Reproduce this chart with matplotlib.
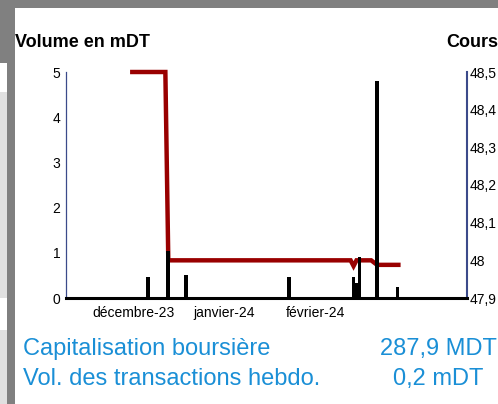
import matplotlib
matplotlib.use("Agg")
import matplotlib.pyplot as plt
import matplotlib.patches as mpatch
import matplotlib.dates as mdates
import numpy as np

plt.rcParams['font.family'] = ['Liberation Sans', 'DejaVu Sans']

# volume (mDT), one bar per trading day
vol_dates = np.array(['2023-12-06', '2023-12-13', '2023-12-19', '2024-01-23',
                      '2024-02-14', '2024-02-15', '2024-02-16', '2024-02-22',
                      '2024-02-29'], dtype='datetime64[D]')
vol = [0.47, 1.04, 0.51, 0.47, 0.47, 0.33, 0.91, 4.81, 0.24]

# share price (DT)
price_dates = np.array(['2023-11-30', '2023-12-12', '2023-12-13', '2024-02-13',
                        '2024-02-14', '2024-02-15', '2024-02-20', '2024-02-22',
                        '2024-03-01'], dtype='datetime64[D]')
price = [48.5, 48.5, 48.0, 48.0, 47.985, 48.0, 48.0, 47.988, 47.988]

month_ticks = np.array(['2023-12-01', '2024-01-01', '2024-02-01'], dtype='datetime64[D]')
month_labels = ['décembre-23', 'janvier-24', 'février-24']

left_ticks = [0, 1, 2, 3, 4, 5]
right_ticks = [47.9, 48.0, 48.1, 48.2, 48.3, 48.4, 48.5]
right_labels = ['47,9', '48', '48,1', '48,2', '48,3', '48,4', '48,5']

W, H = 498, 404
fig = plt.figure(figsize=(W / 100, H / 100), dpi=100)


def px_rect(x, y, w, h, color):
    # rectangle given in pixel coords (origin top-left)
    fig.patches.append(mpatch.Rectangle((x / W, 1 - (y + h) / H), w / W, h / H,
                                        transform=fig.transFigure, color=color,
                                        lw=0, zorder=0))


# page decoration around the chart
px_rect(0, 0, W, 8, '#808080')
px_rect(0, 0, 15, 63, '#808080')
px_rect(7, 63, 8, H - 63, '#808080')
px_rect(0, 92, 7, 206, '#e0e0e0')
px_rect(0, 330, 7, H - 330, '#e0e0e0')

ax = fig.add_axes([66 / W, 1 - 298 / H, (467 - 66) / W, (298 - 72) / H])
ax2 = ax.twinx()
ax.set_zorder(2)
ax.patch.set_visible(False)
ax2.set_zorder(1)

ax.bar(vol_dates, vol, width=1.25, color='black', zorder=3)
ax2.plot(price_dates, price, color='#990000', lw=3.2, solid_capstyle='butt',
         solid_joinstyle='miter', clip_on=False)

x0 = mdates.date2num(np.datetime64('2023-11-08T05:00'))
x1 = mdates.date2num(np.datetime64('2024-03-23T14:00'))
ax.set_xlim(x0, x1)
ax.set_ylim(0, 5)
ax2.set_ylim(47.9, 48.5)

ax.set_xticks(mdates.date2num(month_ticks))
ax.set_xticklabels(month_labels)
ax.set_yticks(left_ticks)
ax2.set_yticks(right_ticks)
ax2.set_yticklabels(right_labels)

ax.tick_params(axis='x', length=0, pad=6, labelsize=10)
ax.tick_params(axis='y', length=0, pad=4, labelsize=10)
ax2.tick_params(axis='y', length=0, pad=2, labelsize=10)

for a in (ax, ax2):
    for side in ('top', 'left', 'right', 'bottom'):
        a.spines[side].set_visible(False)
ax.spines['left'].set_visible(True)
ax.spines['left'].set_color('#3b4a8a')
ax.spines['left'].set_linewidth(0.9)
ax.spines['bottom'].set_visible(True)
ax.spines['bottom'].set_color('black')
ax.spines['bottom'].set_linewidth(2.2)
ax2.spines['right'].set_visible(True)
ax2.spines['right'].set_color('#3b4a8a')
ax2.spines['right'].set_linewidth(1.5)

fig.text(15 / W, 1 - 47 / H, 'Volume en mDT', fontsize=13, fontweight='bold',
         ha='left', va='baseline')
fig.text(446 / W, 1 - 47 / H, 'Cours', fontsize=13, fontweight='bold',
         ha='left', va='baseline')

blue = '#1a8fd6'
fig.text(23 / W, 1 - 355 / H, 'Capitalisation boursière', fontsize=17,
         color=blue, ha='left', va='baseline')
fig.text(23 / W, 1 - 385 / H, 'Vol. des transactions hebdo.', fontsize=17,
         color=blue, ha='left', va='baseline')
fig.text(438 / W, 1 - 355 / H, '287,9 MDT', fontsize=17, color=blue,
         ha='center', va='baseline')
fig.text(438 / W, 1 - 385 / H, '0,2 mDT', fontsize=17, color=blue,
         ha='center', va='baseline')

fig.savefig('out.png', dpi=100)
